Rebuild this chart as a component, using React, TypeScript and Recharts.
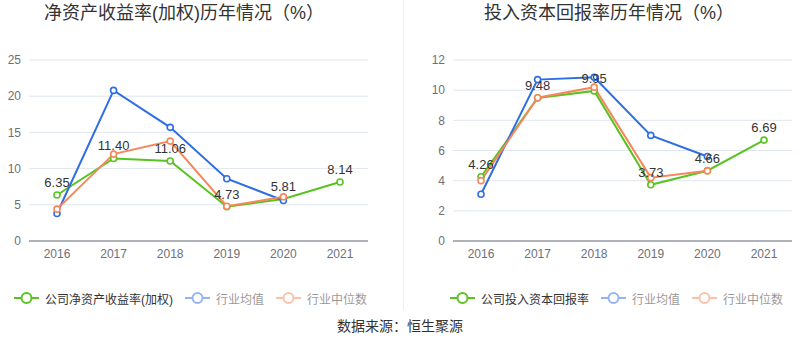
import React from "react";
import { LineChart, Line, XAxis, YAxis, CartesianGrid, LabelList } from "recharts";

const years = ["2016", "2017", "2018", "2019", "2020", "2021"];

const roeCompany = [6.35, 11.4, 11.06, 4.73, 5.81, 8.14];
const roeIndustryAvg = [3.8, 20.8, 15.7, 8.6, 5.6, null];
const roeIndustryMedian = [4.4, 12.0, 13.8, 4.8, 6.1, null];
const roeTicks = [0, 5, 10, 15, 20, 25];

const roicCompany = [4.26, 9.48, 9.95, 3.73, 4.66, 6.69];
const roicIndustryAvg = [3.1, 10.7, 10.85, 7.0, 5.6, null];
const roicIndustryMedian = [4.0, 9.5, 10.2, 4.2, 4.65, null];
const roicTicks = [0, 2, 4, 6, 8, 10, 12];

const leftTitle = "净资产收益率(加权)历年情况（%）";
const rightTitle = "投入资本回报率历年情况（%）";
const leftLegend = ["公司净资产收益率(加权)", "行业均值", "行业中位数"];
const rightLegend = ["公司投入资本回报率", "行业均值", "行业中位数"];
const sourceText = "数据来源：恒生聚源";

const GREEN = "#58c322";
const BLUE = "#2f6de3";
const ORANGE = "#f7875a";
const FONT = "'Liberation Sans', Arial, 'Noto Sans CJK SC', sans-serif";

const buildRows = (c: (number | null)[], a: (number | null)[], m: (number | null)[]) =>
  years.map((y, i) => ({ year: y, company: c[i], avg: a[i], median: m[i] }));

const roeRows = buildRows(roeCompany, roeIndustryAvg, roeIndustryMedian);
const roicRows = buildRows(roicCompany, roicIndustryAvg, roicIndustryMedian);

const dot = (color: string) => ({ r: 3, stroke: color, strokeWidth: 1.6, fill: "#fff" });

function Chart({ rows, ticks, max, yWidth, rightMargin }: any) {
  return (
    <LineChart
      width={400}
      height={270}
      data={rows}
      margin={{ top: 60, right: rightMargin, bottom: 4, left: 0 }}
      style={{ fontFamily: FONT }}
    >
      <CartesianGrid vertical={false} stroke="#e0e6f1" />
      <XAxis
        dataKey="year"
        padding={{ left: 28, right: 28 }}
        tickLine={false}
        axisLine={{ stroke: "#6e7079" }}
        tick={{ fill: "#6e7079", fontSize: 12 }}
        height={25}
        interval={0}
      />
      <YAxis
        domain={[0, max]}
        ticks={ticks}
        width={yWidth}
        axisLine={false}
        tickLine={false}
        tick={{ fill: "#6e7079", fontSize: 12 }}
        interval={0}
      />
      <Line
        dataKey="company"
        stroke={GREEN}
        strokeWidth={2}
        dot={dot(GREEN)}
        activeDot={false}
        isAnimationActive={false}
      >
        <LabelList
          dataKey="company"
          position="top"
          offset={8}
          fill="#333"
          fontSize={13}
          formatter={(v: any) => (v == null ? "" : Number(v).toFixed(2))}
        />
      </Line>
      <Line
        dataKey="avg"
        stroke={BLUE}
        strokeWidth={2}
        dot={dot(BLUE)}
        activeDot={false}
        isAnimationActive={false}
      />
      <Line
        dataKey="median"
        stroke={ORANGE}
        strokeWidth={2}
        dot={dot(ORANGE)}
        activeDot={false}
        isAnimationActive={false}
      />
    </LineChart>
  );
}

function LegendIcon({ color }: { color: string }) {
  return (
    <svg width={25} height={14} style={{ display: "block" }}>
      <line x1={0} y1={7} x2={25} y2={7} stroke={color} strokeWidth={2} />
      <circle cx={12.5} cy={7} r={5} stroke={color} strokeWidth={2} fill="#fff" />
    </svg>
  );
}

function LegendRow({ names, left }: { names: string[]; left: number }) {
  const colors = [GREEN, BLUE, ORANGE];
  return (
    <div
      style={{
        position: "absolute",
        left,
        top: 290,
        height: 16,
        display: "flex",
        alignItems: "center",
        fontFamily: FONT,
        fontSize: 12,
        color: "#333",
        whiteSpace: "nowrap",
      }}
    >
      {names.map((n, i) => (
        <div
          key={n}
          style={{
            display: "flex",
            alignItems: "center",
            marginRight: 12,
            opacity: i === 0 ? 1 : 0.5,
          }}
        >
          <LegendIcon color={colors[i]} />
          <span style={{ marginLeft: 6 }}>{n}</span>
        </div>
      ))}
    </div>
  );
}

export default function App() {
  const titleStyle: React.CSSProperties = {
    position: "absolute",
    top: 2,
    width: 400,
    height: 22,
    lineHeight: "22px",
    textAlign: "center",
    fontSize: 18,
    color: "#333",
    fontFamily: FONT,
    whiteSpace: "nowrap",
  };
  return (
    <div
      style={{
        position: "absolute",
        left: 0,
        top: 0,
        width: 800,
        height: 358,
        background: "#fff",
        overflow: "hidden",
      }}
    >
      <div style={{ ...titleStyle, left: 184 - 200 }}>{leftTitle}</div>
      <div style={{ ...titleStyle, left: 609 - 200 }}>{rightTitle}</div>
      <div
        style={{
          position: "absolute",
          left: 403,
          top: 0,
          width: 1,
          height: 310,
          background: "#eee",
        }}
      />
      <div style={{ position: "absolute", left: 0, top: 0 }}>
        <Chart rows={roeRows} ticks={roeTicks} max={25} yWidth={29} rightMargin={32} />
      </div>
      <div style={{ position: "absolute", left: 400, top: 0 }}>
        <Chart rows={roicRows} ticks={roicTicks} max={12} yWidth={53} rightMargin={8} />
      </div>
      <LegendRow names={leftLegend} left={14} />
      <LegendRow names={rightLegend} left={450} />
      <div
        style={{
          position: "absolute",
          left: 0,
          width: 800,
          top: 316,
          height: 20,
          lineHeight: "20px",
          textAlign: "center",
          fontSize: 14,
          color: "#333",
          fontFamily: FONT,
        }}
      >
        {sourceText}
      </div>
    </div>
  );
}
